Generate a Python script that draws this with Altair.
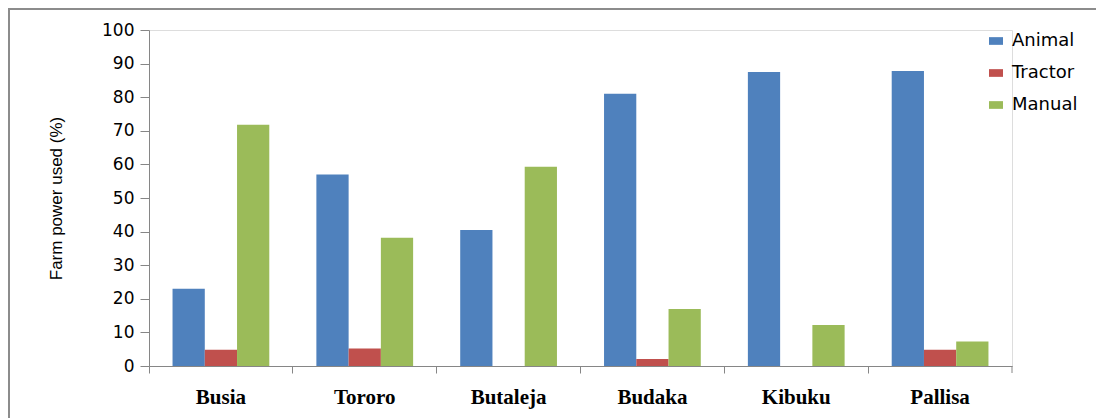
import altair as alt
import pandas as pd

districts = ["Busia", "Tororo", "Butaleja", "Budaka", "Kibuku", "Pallisa"]
series = ["Animal", "Tractor", "Manual"]
animal = [23.0, 57.0, 40.5, 81.0, 87.5, 87.8]
tractor = [4.8, 5.2, 0.0, 2.1, 0.0, 4.8]
manual = [71.8, 38.2, 59.3, 17.0, 12.2, 7.3]
colors = ["#4F81BD", "#C0504D", "#9BBB59"]
y_ticks = [0, 10, 20, 30, 40, 50, 60, 70, 80, 90, 100]

rows = []
for i, d in enumerate(districts):
    for s, vals in zip(series, [animal, tractor, manual]):
        rows.append({"District": d, "Power": s, "Value": vals[i]})
df = pd.DataFrame(rows)

W, H = 863, 336
L, T = 149, 30

bars = alt.Chart(df).mark_bar().encode(
    x=alt.X("District:N", sort=districts,
            scale=alt.Scale(paddingInner=0, paddingOuter=0),
            axis=alt.Axis(title=None, labelAngle=0, bandPosition=0,
                          labelFont="Liberation Serif", labelFontWeight="bold",
                          labelFontSize=21, labelColor="#000000",
                          labelPadding=13, tickSize=7, tickColor="#868686",
                          domainColor="#868686", labelBound=False)),
    xOffset=alt.XOffset("Power:N", sort=series,
                        scale=alt.Scale(paddingOuter=0.73, paddingInner=0)),
    y=alt.Y("Value:Q", scale=alt.Scale(domain=[0, 100]),
            axis=alt.Axis(title="Farm power used (%)", values=y_ticks, grid=False,
                          labelFont="DejaVu Sans", labelFontSize=17,
                          labelColor="#000000", labelPadding=6,
                          tickSize=9, tickColor="#868686", domainColor="#868686",
                          titleFont="Liberation Sans", titleFontSize=17,
                          titleFontWeight="normal", titleColor="#000000",
                          titlePadding=36)),
    color=alt.Color("Power:N", sort=series,
                    scale=alt.Scale(domain=series, range=colors),
                    legend=alt.Legend(title=None, orient="none", legendX=838, legendY=2,
                                      symbolType="M-1,-0.55H1V0.55H-1Z",
                                      symbolSize=196, symbolStrokeWidth=0,
                                      labelFont="DejaVu Sans", labelFontSize=18,
                                      labelColor="#000000", rowPadding=14,
                                      labelOffset=7)),
)

end_tick = alt.Chart(pd.DataFrame({"v": [0]})).mark_rule(color="#868686").encode(
    x=alt.value(W), y=alt.value(H), y2=alt.value(H + 7))

frame = alt.Chart(pd.DataFrame({"v": [0]})).mark_rect(
    fill=None, stroke="#8c8c8c", strokeWidth=2).encode(
    x=alt.value(9 - L), x2=alt.value(W + 200),
    y=alt.value(9 - T), y2=alt.value(H + 200))

chart = alt.layer(frame, bars, end_tick).properties(
    width=W, height=H,
    autosize=alt.AutoSizeParams(type="none"),
    padding={"left": L, "top": T, "right": 1096 - L - W, "bottom": 418 - T - H},
).configure_view(stroke=None).configure(background="white")

chart.save("out.html", embed_options={"renderer": "svg", "actions": False})
